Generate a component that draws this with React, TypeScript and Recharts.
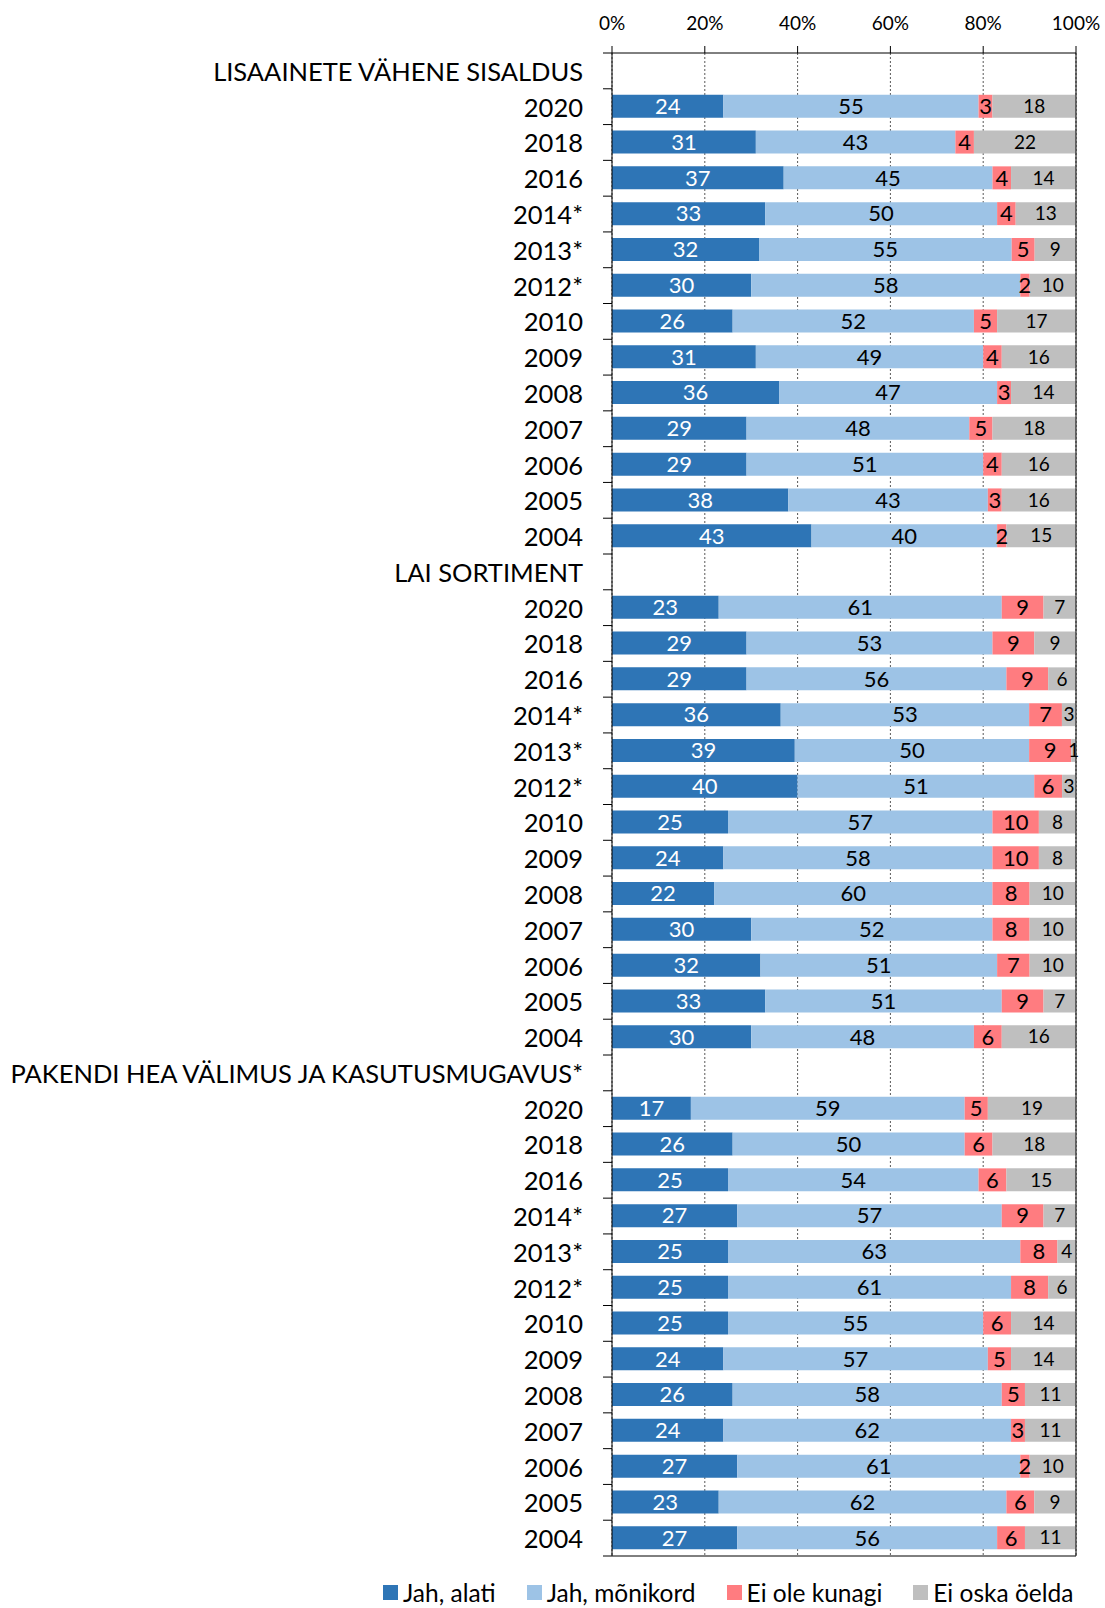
import React from "react";
import {
  BarChart,
  Bar,
  XAxis,
  YAxis,
  CartesianGrid,
  LabelList,
  ReferenceLine,
} from "recharts";

const groups = [
  "LISAAINETE VÄHENE SISALDUS",
  "LAI SORTIMENT",
  "PAKENDI HEA VÄLIMUS JA KASUTUSMUGAVUS*",
];
const years = ["2020", "2018", "2016", "2014*", "2013*", "2012*", "2010", "2009", "2008", "2007", "2006", "2005", "2004"];

// per group, values by year (same order as years)
const alati = [
  [24, 31, 37, 33, 32, 30, 26, 31, 36, 29, 29, 38, 43],
  [23, 29, 29, 36, 39, 40, 25, 24, 22, 30, 32, 33, 30],
  [17, 26, 25, 27, 25, 25, 25, 24, 26, 24, 27, 23, 27],
];
const monikord = [
  [55, 43, 45, 50, 55, 58, 52, 49, 47, 48, 51, 43, 40],
  [61, 53, 56, 53, 50, 51, 57, 58, 60, 52, 51, 51, 48],
  [59, 50, 54, 57, 63, 61, 55, 57, 58, 62, 61, 62, 56],
];
const eiKunagi = [
  [3, 4, 4, 4, 5, 2, 5, 4, 3, 5, 4, 3, 2],
  [9, 9, 9, 7, 9, 6, 10, 10, 8, 8, 7, 9, 6],
  [5, 6, 6, 9, 8, 8, 6, 5, 5, 3, 2, 6, 6],
];
const eiOska = [
  [18, 22, 14, 13, 9, 10, 17, 16, 14, 18, 16, 16, 15],
  [7, 9, 6, 3, 1, 3, 8, 8, 10, 10, 10, 7, 16],
  [19, 18, 15, 7, 4, 6, 14, 14, 11, 11, 10, 9, 11],
];

const xTicks = [0, 0.2, 0.4, 0.6, 0.8, 1];

const series = [
  { key: "a", name: "Jah, alati", color: "#2E75B6", text: "#ffffff", size: 22 },
  { key: "b", name: "Jah, mõnikord", color: "#9DC3E6", text: "#000000", size: 22 },
  { key: "c", name: "Ei ole kunagi", color: "#FF7C80", text: "#000000", size: 22 },
  { key: "d", name: "Ei oska öelda", color: "#BFBFBF", text: "#000000", size: 19 },
];

type Row = { label: string; a: number | null; b: number | null; c: number | null; d: number | null };

const rows: Row[] = [];
groups.forEach((g, gi) => {
  rows.push({ label: g, a: null, b: null, c: null, d: null });
  years.forEach((y, yi) => {
    rows.push({
      label: y,
      a: alati[gi][yi],
      b: monikord[gi][yi],
      c: eiKunagi[gi][yi],
      d: eiOska[gi][yi],
    });
  });
});

const W = 1105;
const H = 1608;
const AXIS_H = 30;
const margin = { top: 53 - AXIS_H, right: 29, bottom: 52 - AXIS_H, left: 0 };
const band = (H - 53 - 52) / rows.length;

const CategoryTick = (props: any) => {
  const { x, y, payload, index } = props;
  return (
    <g>
      <line x1={x + 20} x2={x + 29} y1={y - band / 2} y2={y - band / 2} stroke="#000" />
      {index === rows.length - 1 && (
        <line x1={x + 20} x2={x + 29} y1={y + band / 2} y2={y + band / 2} stroke="#000" />
      )}
      <text x={x} y={y} textAnchor="end" dominantBaseline="central" fontSize={25.5} fill="#000">
        {payload.value}
      </text>
    </g>
  );
};

const LegendBox = () => (
  <div
    style={{
      position: "absolute",
      left: 383,
      top: 1578,
      display: "flex",
      gap: 31,
      fontSize: 24.5,
      alignItems: "center",
      whiteSpace: "nowrap",
    }}
  >
    {series.map((s) => (
      <div key={s.key} style={{ display: "flex", alignItems: "center" }}>
        <span style={{ width: 15, height: 15, background: s.color, marginRight: 5, display: "inline-block" }} />
        <span>{s.name}</span>
      </div>
    ))}
  </div>
);

export default function App() {
  return (
    <div style={{ position: "absolute", left: 0, top: 0, width: W, height: H, fontFamily: "Lato, sans-serif", background: "#fff" }}>
      <BarChart width={W} height={H} data={rows} layout="vertical" stackOffset="expand" margin={margin}>
        <CartesianGrid horizontal={false} stroke="#595959" strokeDasharray="2 2" />
        <XAxis
          type="number"
          orientation="top"
          height={AXIS_H}
          domain={[0, 1]}
          ticks={xTicks}
          tickFormatter={(v: number) => `${Math.round(v * 100)}%`}
          tick={{ fontSize: 19, fill: "#000" }}
          tickSize={7}
          tickMargin={16}
          stroke="#000"
          interval={0}
        />
        <XAxis
          xAxisId="bottom"
          type="number"
          orientation="bottom"
          height={AXIS_H}
          domain={[0, 1]}
          tick={false}
          tickLine={false}
          stroke="#000"
        />
        <YAxis
          type="category"
          dataKey="label"
          width={612}
          tickLine={false}
          tickSize={9}
          tickMargin={20}
          tick={<CategoryTick />}
          stroke="#000"
          interval={0}
        />
        {series.map((s) => (
          <Bar key={s.key} dataKey={s.key} name={s.name} stackId="s" fill={s.color} barSize={23} isAnimationActive={false}>
            <LabelList
              dataKey={s.key}
              position="center"
              fill={s.text}
              fontSize={s.size}
              formatter={(v: any) => (v == null || v === 0 ? "" : v)}
            />
          </Bar>
        ))}
        <ReferenceLine x={1} stroke="#000" />
      </BarChart>
      <LegendBox />
    </div>
  );
}
